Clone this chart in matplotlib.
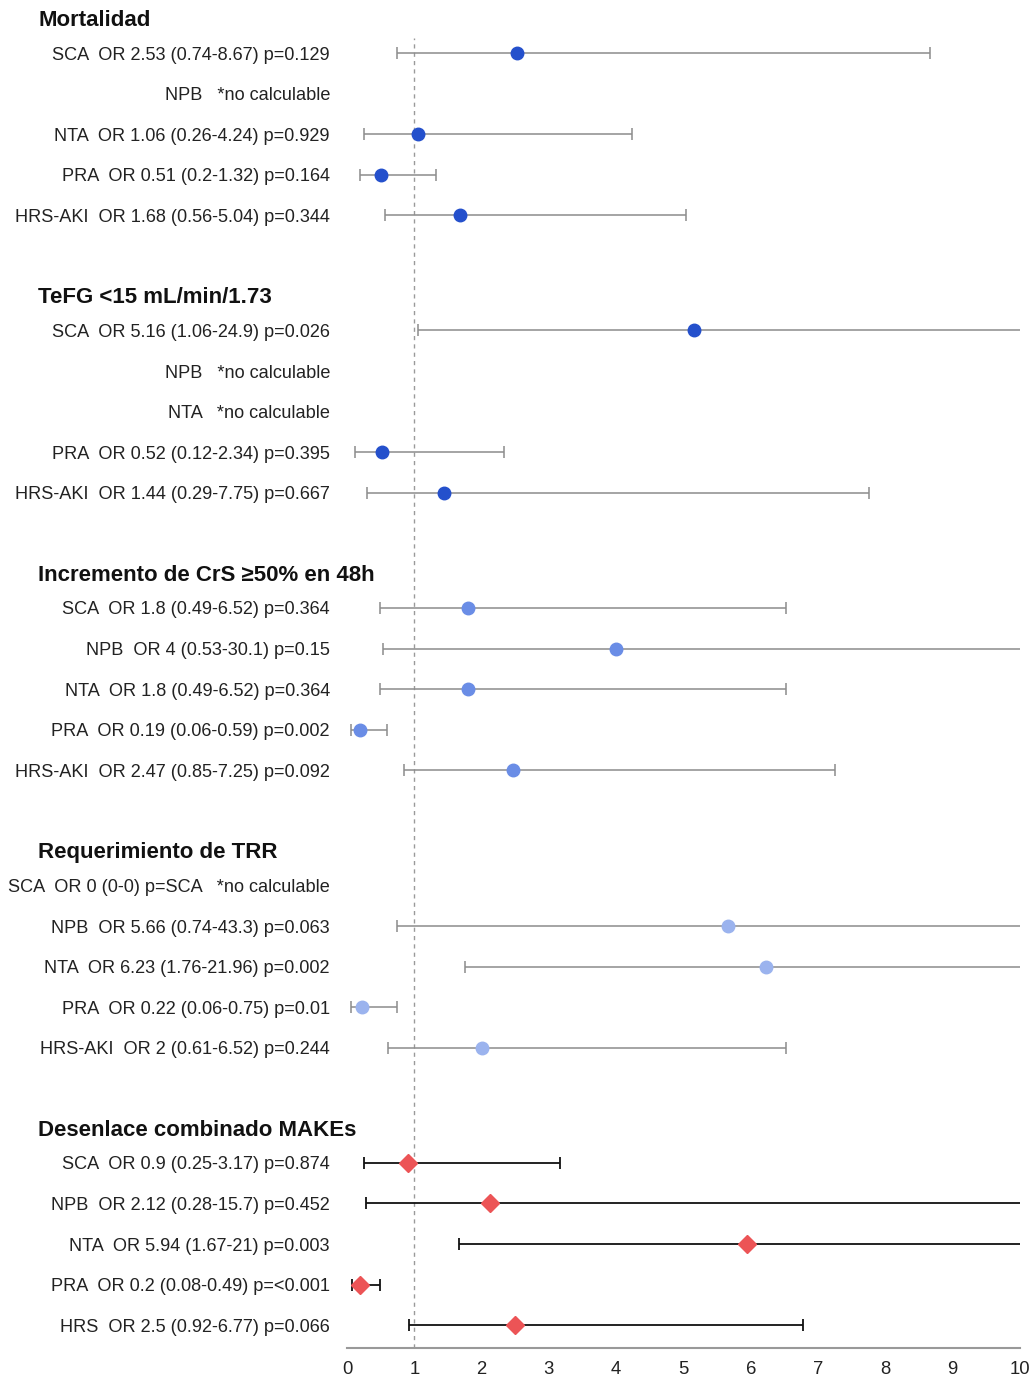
import matplotlib
matplotlib.use("Agg")
import matplotlib.pyplot as plt
from matplotlib.transforms import blended_transform_factory
import numpy as np

plt.rcParams['font.family'] = ['Liberation Sans', 'DejaVu Sans']

# ---- data ----
sections = ["Mortalidad", "TeFG <15 mL/min/1.73", "Incremento de CrS \u226550% en 48h",
            "Requerimiento de TRR", "Desenlace combinado MAKEs"]

labels_mort = ["SCA  OR 2.53 (0.74-8.67) p=0.129", "NPB   *no calculable",
               "NTA  OR 1.06 (0.26-4.24) p=0.929", "PRA  OR 0.51 (0.2-1.32) p=0.164",
               "HRS-AKI  OR 1.68 (0.56-5.04) p=0.344"]
or_mort = [2.53, None, 1.06, 0.51, 1.68]
lo_mort = [0.74, None, 0.26, 0.20, 0.56]
hi_mort = [8.67, None, 4.24, 1.32, 5.04]

labels_tefg = ["SCA  OR 5.16 (1.06-24.9) p=0.026", "NPB   *no calculable",
               "NTA   *no calculable", "PRA  OR 0.52 (0.12-2.34) p=0.395",
               "HRS-AKI  OR 1.44 (0.29-7.75) p=0.667"]
or_tefg = [5.16, None, None, 0.52, 1.44]
lo_tefg = [1.06, None, None, 0.12, 0.29]
hi_tefg = [24.9, None, None, 2.34, 7.75]

labels_crs = ["SCA  OR 1.8 (0.49-6.52) p=0.364", "NPB  OR 4 (0.53-30.1) p=0.15",
              "NTA  OR 1.8 (0.49-6.52) p=0.364", "PRA  OR 0.19 (0.06-0.59) p=0.002",
              "HRS-AKI  OR 2.47 (0.85-7.25) p=0.092"]
or_crs = [1.8, 4.0, 1.8, 0.19, 2.47]
lo_crs = [0.49, 0.53, 0.49, 0.06, 0.85]
hi_crs = [6.52, 30.1, 6.52, 0.59, 7.25]

labels_trr = ["SCA  OR 0 (0-0) p=SCA   *no calculable", "NPB  OR 5.66 (0.74-43.3) p=0.063",
              "NTA  OR 6.23 (1.76-21.96) p=0.002", "PRA  OR 0.22 (0.06-0.75) p=0.01",
              "HRS-AKI  OR 2 (0.61-6.52) p=0.244"]
or_trr = [None, 5.66, 6.23, 0.22, 2.0]
lo_trr = [None, 0.74, 1.76, 0.06, 0.61]
hi_trr = [None, 43.3, 21.96, 0.75, 6.52]

labels_make = ["SCA  OR 0.9 (0.25-3.17) p=0.874", "NPB  OR 2.12 (0.28-15.7) p=0.452",
               "NTA  OR 5.94 (1.67-21) p=0.003", "PRA  OR 0.2 (0.08-0.49) p=<0.001",
               "HRS  OR 2.5 (0.92-6.77) p=0.066"]
or_make = [0.9, 2.12, 5.94, 0.2, 2.5]
lo_make = [0.25, 0.28, 1.67, 0.08, 0.92]
hi_make = [3.17, 15.7, 21.0, 0.49, 6.77]

x_ticks = [0, 1, 2, 3, 4, 5, 6, 7, 8, 9, 10]

# ---- styles ----
point_colors = ["#2450cc", "#2450cc", "#6a8de6", "#9bb3ee", "#ec5456"]
bar_colors = ["#8c8c8c", "#8c8c8c", "#8c8c8c", "#8c8c8c", "#111111"]
markers = ["o", "o", "o", "o", "D"]
msizes = [9, 9, 9, 9, 9.5]

all_labels = [labels_mort, labels_tefg, labels_crs, labels_trr, labels_make]
all_or = [or_mort, or_tefg, or_crs, or_trr, or_make]
all_lo = [lo_mort, lo_tefg, lo_crs, lo_trr, lo_make]
all_hi = [hi_mort, hi_tefg, hi_crs, hi_trr, hi_make]

SEC_STEP = 6.835
HEADER_OFF = -0.87

fig = plt.figure(figsize=(10.31, 13.81), dpi=100)
ax = fig.add_axes([347/1031, 33/1381, 673/1031, 1310/1381])

trans = blended_transform_factory(ax.transAxes, ax.transData)

for s, name in enumerate(sections):
    base = s * SEC_STEP
    ax.text(-0.459, base + HEADER_OFF, name, transform=trans, ha='left', va='center_baseline',
            fontsize=16, fontweight='bold', color='#111111', clip_on=False)
    for i, lab in enumerate(all_labels[s]):
        y = base + i
        ax.text(-0.0253, y, lab, transform=trans, ha='right', va='center_baseline',
                fontsize=13.1, color='#222222', clip_on=False)
        o = all_or[s][i]
        if o is None:
            continue
        lo = all_lo[s][i]
        hi = all_hi[s][i]
        ax.errorbar([o], [y], xerr=[[o - lo], [hi - o]], fmt='none',
                    ecolor=bar_colors[s], elinewidth=1.3 if s == 4 else 1.1,
                    capsize=4.5, capthick=1.3 if s == 4 else 1.1, zorder=2)
        ax.plot([o], [y], marker=markers[s], markersize=msizes[s],
                color=point_colors[s], linestyle='none', zorder=3)

ax.axvline(1, color='#9a9a9a', linestyle=(0, (3, 3)), linewidth=1.0, zorder=1)

ax.set_xlim(0, 10)
ax.set_ylim(31.9, -0.37)
ax.set_xticks(x_ticks)
ax.set_xticklabels([str(t) for t in x_ticks], fontsize=13.3, color='#222222')
ax.tick_params(axis='x', length=0, pad=9)
ax.set_yticks([])
for sp in ['top', 'right', 'left']:
    ax.spines[sp].set_visible(False)
ax.spines['bottom'].set_color('#999999')
ax.spines['bottom'].set_linewidth(1.5)

fig.savefig("out.png", dpi=100, facecolor='white')
